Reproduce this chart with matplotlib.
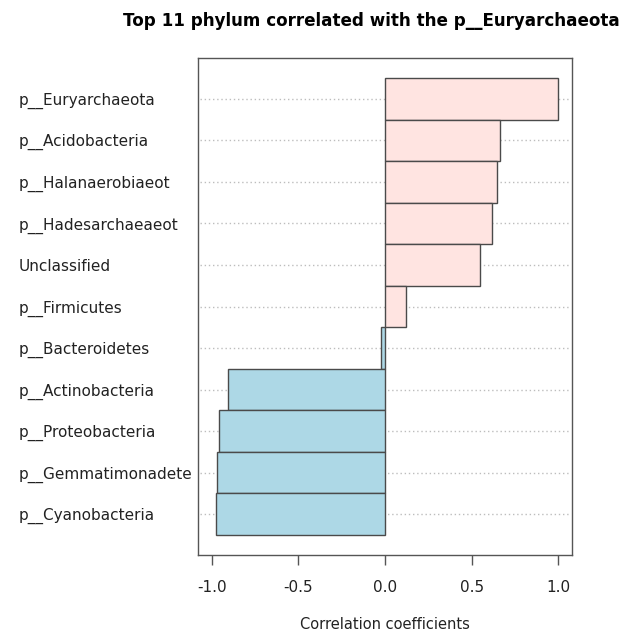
import matplotlib
matplotlib.use("Agg")
import matplotlib.pyplot as plt

categories = ["p__Euryarchaeota", "p__Acidobacteria", "p__Halanaerobiaeot",
              "p__Hadesarchaeaeot", "Unclassified", "p__Firmicutes",
              "p__Bacteroidetes", "p__Actinobacteria", "p__Proteobacteria",
              "p__Gemmatimonadete", "p__Cyanobacteria"]
values = [1.0, 0.665, 0.645, 0.62, 0.549, 0.121, -0.025, -0.907, -0.96, -0.973, -0.977]
xticks = [-1.0, -0.5, 0.0, 0.5, 1.0]
xticklabels = ["-1.0", "-0.5", "0.0", "0.5", "1.0"]

plt.rcParams['font.family'] = ['DejaVu Sans']
fig = plt.figure(figsize=(6.31, 6.32), dpi=100)
ax = fig.add_axes([198/631, 1-555/632, 374/631, 497/632])

pos = list(range(len(categories)))
colors = ["#FFE4E1" if v >= 0 else "#ADD8E6" for v in values]
ax.barh(pos, values, height=1.0, color=colors, edgecolor="#4a4a4a", linewidth=1.0, zorder=3)
for p in pos:
    ax.plot([-1.07, 1.07], [p, p], color="#bdbdbd", linestyle=(0, (1, 2)), linewidth=1.0, zorder=1)

ax.set_xlim(-1.08, 1.08)
ax.set_ylim(len(categories) - 0.5 + 0.48, -0.5 - 0.48)
ax.set_yticks(pos)
ax.set_yticklabels(categories, fontsize=11, color="#222222")
for lbl in ax.get_yticklabels():
    lbl.set_horizontalalignment("left")
ax.tick_params(axis="y", length=0, pad=179 * 72 / 100)
ax.set_xticks(xticks)
ax.set_xticklabels(xticklabels, fontsize=11, color="#222222")
ax.tick_params(axis="x", length=7, width=1, color="#555555", pad=11)
for s in ax.spines.values():
    s.set_color("#555555")
    s.set_linewidth(1.0)
ax.set_xlabel("Correlation coefficients", fontsize=10.5, color="#222222", labelpad=16)

fig.text(371/631, 1-21/632, "Top 11 phylum correlated with the p__Euryarchaeota",
         ha="center", va="center", fontsize=12.1, fontweight="bold")

fig.savefig("out.png", dpi=100)
